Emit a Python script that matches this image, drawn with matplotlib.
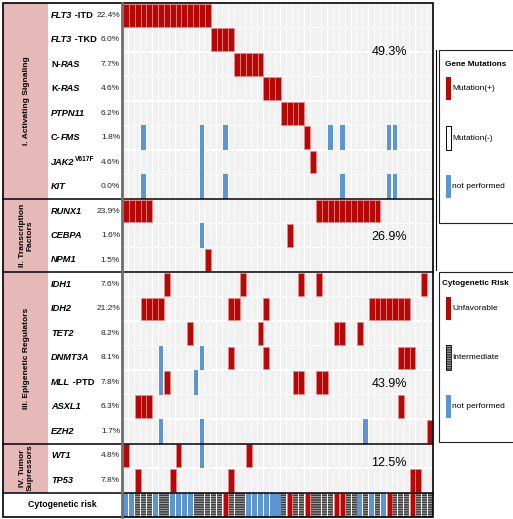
import matplotlib
matplotlib.use("Agg")
import matplotlib.pyplot as plt
import numpy as np
from matplotlib.patches import Rectangle

plt.rcParams["font.family"] = "Liberation Sans"
plt.rcParams["hatch.linewidth"] = 0.6

# ---- data -------------------------------------------------------------
n_patients = 53

# gene label pieces: (text, italic?)
gene_labels = [
    [("FLT3", True), (" -ITD", False)],
    [("FLT3", True), (" -TKD", False)],
    [("N-", False), ("RAS", True)],
    [("K-", False), ("RAS", True)],
    [("PTPN11", True)],
    [("C-", False), ("FMS", True)],
    [("JAK2", True)],
    [("KIT", True)],
    [("RUNX1", True)],
    [("CEBPA", True)],
    [("NPM1", True)],
    [("IDH1", True)],
    [("IDH2", True)],
    [("TET2", True)],
    [("DNMT3A", True)],
    [("MLL", True), (" -PTD", False)],
    [("ASXL1", True)],
    [("EZH2", True)],
    [("WT1", True)],
    [("TP53", True)],
]
gene_pcts = ["22.4%", "6.0%", "7.7%", "4.6%", "6.2%", "1.8%", "4.6%", "0.0%",
             "23.9%", "1.6%", "1.5%",
             "7.6%", "21.2%", "8.2%", "8.1%", "7.8%", "6.3%", "1.7%",
             "4.8%", "7.8%"]

mutated_cols = [
    list(range(0, 15)),
    [15, 16, 17, 18],
    [19, 20, 21, 22, 23],
    [24, 25, 26],
    [27, 28, 29, 30],
    [31],
    [32],
    [],
    [0, 1, 2, 3, 4] + list(range(33, 44)),
    [28],
    [14],
    [7, 20, 30, 33, 51],
    [3, 4, 5, 6, 18, 19, 24] + list(range(42, 49)),
    [11, 23, 36, 37, 40],
    [18, 24, 47, 48, 49],
    [7, 29, 30, 33, 34],
    [2, 3, 4, 47],
    [52],
    [0, 9, 21],
    [2, 8, 18, 49, 50],
]
not_performed_cols = [
    [], [], [], [], [],
    [3, 13, 17, 35, 37, 45, 46],
    [13],
    [3, 13, 17, 37, 45, 46],
    [],
    [13],
    [],
    [], [], [],
    [6, 13],
    [6, 12],
    [],
    [6, 13, 41],
    [13],
    [],
]
# N = not performed, I = intermediate, U = unfavorable
cyto_risk = "NNIIINIINNNNIIIIIUIIINNNNNNIUIIUIIIIUUIINININUIIIUIII"

sections = ["I. Activating Signaling", "II. Transcription\nFactors",
            "III. Epigenetic Regulators", "IV. Tumor\nSupressors"]
section_sizes = [8, 3, 7, 2]
section_pcts = ["49.3%", "26.9%", "43.9%", "12.5%"]
# vertical spot of the section percentage, in rows below the section top
pct_offsets = [2.0, 1.55, 4.55, 0.8]

# ---- style ------------------------------------------------------------
RED = "#B70808"
RED_EDGE = "#EE8A8A"
BLUE = "#5B96D3"
CELL = "#F1F1F1"
PINK = "#E6B9B8"
HATCH_FACE = "#3C3C3C"
HATCH_LINE = "#B4B4B4"

W, H = 513, 519
top, bottom = 3, 517
left_grid, right_grid = 123, 433
n_rows = len(gene_labels) + 1
row_h = (bottom - top) / n_rows

fig = plt.figure(figsize=(W / 100, H / 100), dpi=100)
ax = fig.add_axes([left_grid / W, 1 - bottom / H,
                   (right_grid - left_grid) / W, (bottom - top) / H])
ax.set_xlim(0, n_patients)
ax.set_ylim(n_rows, 0)
ax.axis("off")

ov = fig.add_axes([0, 0, 1, 1], facecolor="none")
ov.set_xlim(0, W)
ov.set_ylim(H, 0)
ov.axis("off")

# ---- grid ---------------------------------------------------------------
cols = np.arange(n_patients)
for r in range(len(gene_labels)):
    ax.bar(cols + 0.5, 0.94, bottom=r + 0.03, width=0.84, color=CELL, linewidth=0)
    if mutated_cols[r]:
        ax.bar(np.array(mutated_cols[r]) + 0.5, 0.93, bottom=r + 0.035, width=1.0,
               color=RED, edgecolor=RED_EDGE, linewidth=0.5)
    if not_performed_cols[r]:
        ax.bar(np.array(not_performed_cols[r]) + 0.5, 1.0, bottom=r, width=0.8,
               color=BLUE, linewidth=0)

risk = np.array(list(cyto_risk))
r = n_rows - 1
ax.bar(cols[risk == "I"] + 0.5, 0.96, bottom=r + 0.02, width=0.86,
       color=HATCH_FACE, edgecolor=HATCH_LINE, linewidth=0, hatch="-------")
ax.bar(cols[risk == "U"] + 0.5, 0.96, bottom=r + 0.02, width=0.9,
       color=RED, edgecolor=RED_EDGE, linewidth=0.4)
ax.bar(cols[risk == "N"] + 0.5, 0.96, bottom=r + 0.02, width=0.86,
       color=BLUE, linewidth=0)

# ---- left side: sections, gene names, percentages -----------------------
start = 0
for name, size, pct, off in zip(sections, section_sizes, section_pcts, pct_offsets):
    y0 = top + start * row_h
    ov.add_patch(Rectangle((3, y0), 45, size * row_h, facecolor=PINK, edgecolor="none"))
    ov.text(26.5, y0 + size * row_h / 2, name, rotation=90, ha="center", va="center",
            fontsize=6, fontweight="bold", multialignment="center", linespacing=1.15)
    ov.text(389, y0 + row_h * off, pct, ha="center", va="center", fontsize=9)
    start += size
    yb = top + start * row_h
    ov.plot([3, right_grid], [yb, yb], color="black", lw=1.1)

for r, (parts, pct) in enumerate(zip(gene_labels, gene_pcts)):
    yc = top + (r + 0.5) * row_h
    prev = None
    for text, italic in parts:
        style = "italic" if italic else "normal"
        if prev is None:
            prev = ov.text(51, yc, text, ha="left", va="center", fontsize=6.7,
                           fontweight="bold", style=style)
        else:
            prev = ov.annotate(text, xy=(1, 0), xycoords=prev, ha="left", va="bottom",
                               fontsize=6.7, fontweight="bold", style=style)
    if r == 6:
        ov.annotate("V617F", xy=(1.03, 0.42), xycoords=prev, ha="left", va="bottom",
                    fontsize=4.8, fontweight="bold")
    ov.text(120, yc, pct, ha="right", va="center", fontsize=6, color="#222222")

ov.text(62, top + (n_rows - 0.5) * row_h, "Cytogenetic risk", ha="center", va="center",
        fontsize=6.3, fontweight="bold")

ov.plot([122, 122], [top, bottom], color="#6E6E6E", lw=2)
ov.add_patch(Rectangle((3, top), right_grid - 3, bottom - top, facecolor="none",
                       edgecolor="black", lw=1.2))

# ---- legends ----------------------------------------------------------------
ov.plot([435.5, 435.5], [50, 270], color="black", lw=0.8)

ov.add_patch(Rectangle((439, 50), 76, 173, facecolor="white", edgecolor="#222222", lw=0.8))
ov.text(445, 65, "Gene Mutations", ha="left", va="center", fontsize=5.9, fontweight="bold")
ov.add_patch(Rectangle((446, 77), 5, 23, facecolor=RED, edgecolor="none"))
ov.text(452, 88.5, "Mutation(+)", ha="left", va="center", fontsize=6)
ov.add_patch(Rectangle((446, 126), 5, 24, facecolor="white", edgecolor="black", lw=0.7))
ov.text(452, 138.5, "Mutation(-)", ha="left", va="center", fontsize=6)
ov.add_patch(Rectangle((446, 175), 5, 23, facecolor=BLUE, edgecolor="none"))
ov.text(452, 186.5, "not performed", ha="left", va="center", fontsize=6)

ov.add_patch(Rectangle((439, 272), 76, 170, facecolor="white", edgecolor="#222222", lw=0.8))
ov.text(442.5, 283.5, "Cytogenetic Risk", ha="left", va="center", fontsize=5.9,
        fontweight="bold")
ov.add_patch(Rectangle((445.5, 297), 5, 23, facecolor=RED, edgecolor="none"))
ov.text(452.5, 308.5, "Unfavorable", ha="left", va="center", fontsize=6)
ov.add_patch(Rectangle((445.5, 345), 5.5, 25, facecolor=HATCH_FACE, edgecolor=HATCH_LINE,
                       lw=0, hatch="-------"))
ov.add_patch(Rectangle((445.5, 345), 5.5, 25, facecolor="none", edgecolor="black", lw=0.6))
ov.text(452.5, 357.5, "Intermediate", ha="left", va="center", fontsize=6)
ov.add_patch(Rectangle((446, 395), 5, 23, facecolor=BLUE, edgecolor="none"))
ov.text(452.5, 406.5, "not performed", ha="left", va="center", fontsize=6)

fig.savefig("out.png", dpi=100)
